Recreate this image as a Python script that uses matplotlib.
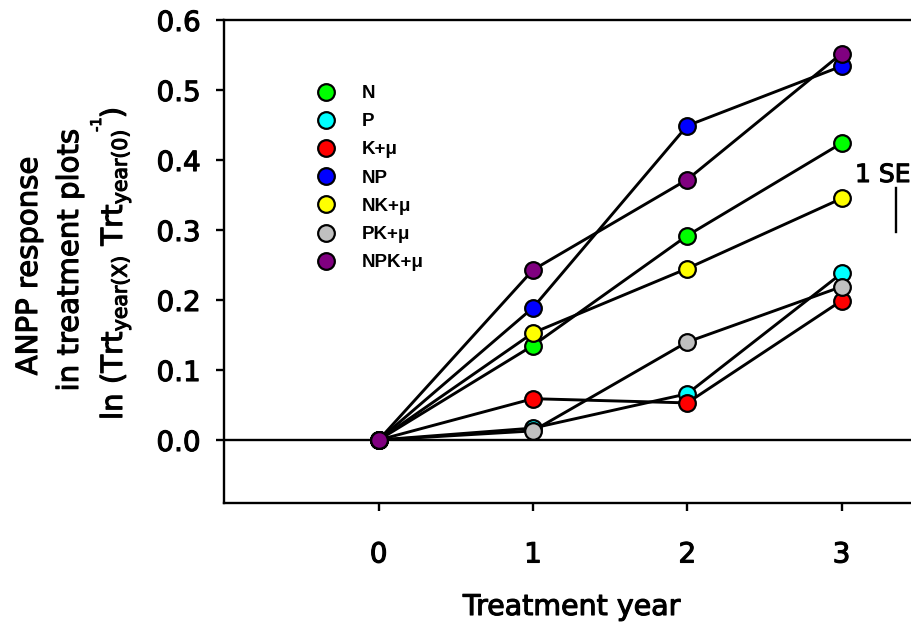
import matplotlib
matplotlib.use("Agg")
import matplotlib.pyplot as plt
from matplotlib.lines import Line2D
import matplotlib.patheffects as pe

plt.rcParams['font.family'] = ['DejaVu Sans']
plt.rcParams['mathtext.default'] = 'regular'

years = [0, 1, 2, 3]
treatments = ["N", "P", "K+\u03bc", "NP", "NK+\u03bc", "PK+\u03bc", "NPK+\u03bc"]
colors = ["#00ff00", "#00ffff", "#ff0000", "#0000ff", "#ffff00", "#c0c0c0", "#800080"]
N_vals = [0.0, 0.135, 0.292, 0.424]
P_vals = [0.0, 0.017, 0.066, 0.238]
K_vals = [0.0, 0.059, 0.053, 0.199]
NP_vals = [0.0, 0.189, 0.449, 0.534]
NK_vals = [0.0, 0.153, 0.245, 0.345]
PK_vals = [0.0, 0.013, 0.140, 0.219]
NPK_vals = [0.0, 0.243, 0.372, 0.552]
series = [N_vals, P_vals, K_vals, NP_vals, NK_vals, PK_vals, NPK_vals]

se_value = 0.063
se_x = 3.352
se_bottom = 0.297

yticks = [0.0, 0.1, 0.2, 0.3, 0.4, 0.5, 0.6]
xticks = [0, 1, 2, 3]

heavy = [pe.withStroke(linewidth=0.8, foreground='black')]

W, H = 911, 629
fig = plt.figure(figsize=(W / 100, H / 100), dpi=100)
ax_left, ax_right, ax_top, ax_bottom = 224.4, 918.7, 20, 503
ax = fig.add_axes([ax_left / W, 1 - ax_bottom / H, (ax_right - ax_left) / W, (ax_bottom - ax_top) / H])
ax.set_xlim(-1.0, 3.5)
ax.set_ylim(-0.09, 0.6)

ax.axhline(0, color='black', lw=1.7, zorder=1)

for vals, col in zip(series, colors):
    ax.plot(years, vals, color='black', lw=2.1, marker='o', markersize=12,
            markerfacecolor=col, markeredgecolor='black', markeredgewidth=1.6,
            zorder=3, clip_on=False)

ax.plot([se_x, se_x], [se_bottom, se_bottom + se_value], color='black', lw=1.7)

for s in ['left', 'bottom', 'top']:
    ax.spines[s].set_linewidth(1.7)
ax.spines['right'].set_visible(False)

ax.set_xticks(xticks)
ax.set_xticklabels([str(t) for t in xticks])
ax.set_yticks(yticks)
ax.set_yticklabels([f"{t:.1f}" for t in yticks])
ax.tick_params(axis='both', direction='out', length=6, width=1.7, labelsize=20)
ax.tick_params(axis='y', pad=11)
ax.tick_params(axis='x', pad=21)
for lab in ax.get_xticklabels() + ax.get_yticklabels():
    lab.set_path_effects(heavy)

handles = [Line2D([], [], linestyle='none', marker='o', markersize=12,
                  markerfacecolor=c, markeredgecolor='black', markeredgewidth=1.6)
           for c in colors]
leg = ax.legend(handles, treatments, loc='upper left',
                bbox_to_anchor=(316.6 / W, 1 - 85 / H), bbox_transform=fig.transFigure,
                frameon=False, borderpad=0, borderaxespad=0, handlelength=1.0,
                handletextpad=1.42, labelspacing=0.59,
                prop={'family': 'Liberation Sans', 'weight': 'bold', 'size': 13.5})

fig.text(855 / W, 1 - 182 / H, "1 SE", fontsize=18, ha='left', va='baseline',
         path_effects=heavy)

fig.text(572 / W, 1 - 615 / H, "Treatment year", fontsize=20.5, ha='center',
         va='baseline', path_effects=heavy)

ylines = [
    ("ANPP response", 37, 266),
    ("in treatment plots", 78, 260),
]
for txt, bx, cy in ylines:
    fig.text(bx / W, 1 - cy / H, txt, fontsize=21, rotation=90,
             rotation_mode='anchor', ha='center', va='baseline', path_effects=heavy)

renderer = fig.canvas.get_renderer()
t3 = fig.text(122 / W, 1 - 420 / H, r"ln (Trt$_{year(X)}$ Trt$_{year(0)}$", fontsize=21,
              rotation=90, rotation_mode='anchor', ha='left', va='baseline',
              path_effects=heavy)
end3 = t3.get_window_extent(renderer).y1
t4 = fig.text(101 / W, (end3 - 2) / H, "-1", fontsize=10.5, rotation=90,
              rotation_mode='anchor', ha='left', va='baseline', path_effects=heavy)
end4 = t4.get_window_extent(renderer).y1
fig.text(122 / W, (end4 - 1) / H, ")", fontsize=21, rotation=90,
         rotation_mode='anchor', ha='left', va='baseline', path_effects=heavy)

fig.savefig("out.png", dpi=100)
